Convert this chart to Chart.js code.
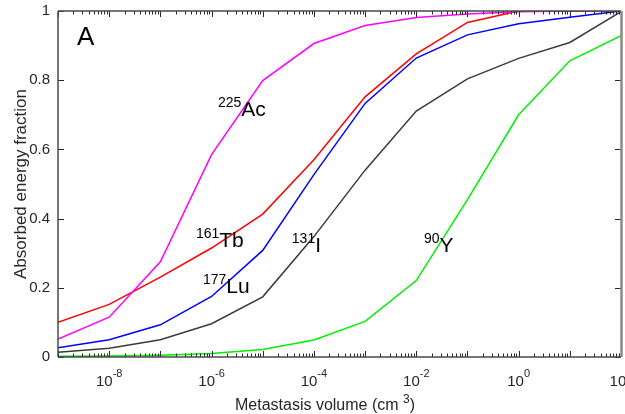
<!DOCTYPE html>
<html>
<head>
<meta charset="utf-8">
<script src="https://cdn.jsdelivr.net/npm/chart.js@4/dist/chart.umd.min.js"></script>
<style>
html,body{margin:0;padding:0;background:#fff;}
#wrap{position:relative;width:625px;height:414px;}
</style>
</head>
<body>
<div id="wrap"><canvas id="c" width="625" height="414"></canvas></div>
<script>
// Metastasis volume (cm^3)
const volumes = [1e-9, 1e-8, 1e-7, 1e-6, 1e-5, 1e-4, 1e-3, 1e-2, 1e-1, 1, 10, 100];
const ac225 = [0.052, 0.115, 0.275, 0.585, 0.799, 0.906, 0.958, 0.981, 0.991, 0.998, 1.0, 1.0];
const tb161 = [0.100, 0.152, 0.231, 0.315, 0.413, 0.570, 0.752, 0.876, 0.967, 1.0, 1.0, 1.0];
const lu177 = [0.027, 0.050, 0.093, 0.175, 0.308, 0.527, 0.733, 0.864, 0.931, 0.963, 0.982, 1.0];
const i131  = [0.014, 0.025, 0.050, 0.096, 0.174, 0.348, 0.540, 0.711, 0.804, 0.863, 0.909, 0.998];
const y90   = [0.002, 0.003, 0.005, 0.010, 0.022, 0.049, 0.103, 0.221, 0.455, 0.700, 0.856, 0.929];
const seriesNames = ['225Ac', '161Tb', '177Lu', '131I', '90Y'];
const xTickValues = [1e-8, 1e-6, 1e-4, 1e-2, 1, 100];
const xTickExponents = ['-8', '-6', '-4', '-2', '0', '2'];
const yTickValues = [0, 0.2, 0.4, 0.6, 0.8, 1];
// label annotations: [mass number, symbol, x (data), y (data)]
const nuclideLabels = [
  ['225', 'Ac', 1.33e-6, 0.721],
  ['161', 'Tb', 4.95e-7, 0.342],
  ['177', 'Lu', 6.8e-7, 0.207],
  ['131', 'I', 3.7e-5, 0.327],
  ['90', 'Y', 1.41e-2, 0.327]
];

const FONT = '"Liberation Sans", Arial, Helvetica, sans-serif';
const AX = '#262626';

function pts(arr){ return volumes.map((v,i)=>({x:v, y:arr[i]})); }

const overlay = {
  id: 'overlay',
  afterDatasetsDraw(chart){
    const ctx = chart.ctx;
    const a = chart.chartArea;
    const xs = chart.scales.x, ys = chart.scales.y;
    ctx.save();
    ctx.fillStyle = '#000';
    ctx.textBaseline = 'alphabetic';
    ctx.textAlign = 'left';
    nuclideLabels.forEach(([m, s, xv, yv])=>{
      const px = xs.getPixelForValue(xv);
      const py = ys.getPixelForValue(yv);
      ctx.font = '14px ' + FONT;
      const w = ctx.measureText(m).width;
      ctx.fillText(m, px, py - 1);
      ctx.font = '21px ' + FONT;
      ctx.fillText(s, px + w, py + 8);
    });
    ctx.font = '26px ' + FONT;
    ctx.fillText('A', a.left + 19, a.top + 34);
    ctx.restore();
  },
  afterDraw(chart){
    const ctx = chart.ctx;
    const a = chart.chartArea;
    const xs = chart.scales.x, ys = chart.scales.y;
    ctx.save();
    ctx.strokeStyle = AX;
    ctx.lineWidth = 1;
    for (let e = -9; e <= 2; e++){
      for (let k = 1; k <= 9; k++){
        const v = k * Math.pow(10, e);
        if (v < xs.min * 0.999 || v > xs.max * 1.001) continue;
        const px = Math.round(xs.getPixelForValue(v)) + 0.5;
        const len = (k === 1) ? 6 : 3.5;
        ctx.beginPath();
        ctx.moveTo(px, a.bottom); ctx.lineTo(px, a.bottom - len);
        ctx.moveTo(px, a.top); ctx.lineTo(px, a.top + len);
        ctx.stroke();
      }
    }
    yTickValues.forEach(v=>{
      const py = Math.round(ys.getPixelForValue(v)) + 0.5;
      ctx.beginPath();
      ctx.moveTo(a.left, py); ctx.lineTo(a.left + 6, py);
      ctx.moveTo(a.right, py); ctx.lineTo(a.right - 6, py);
      ctx.stroke();
    });
    ctx.lineWidth = 1.5;
    ctx.strokeStyle = '#4a4a4a';
    ctx.beginPath();
    ctx.moveTo(a.left, a.top); ctx.lineTo(a.right, a.top);
    ctx.moveTo(a.left, a.top); ctx.lineTo(a.left, a.bottom);
    ctx.moveTo(a.left, a.bottom); ctx.lineTo(a.right, a.bottom);
    ctx.stroke();
    ctx.strokeStyle = '#8a8a8a';
    ctx.lineWidth = 2.5;
    ctx.beginPath();
    ctx.moveTo(a.right + 0.5, a.top); ctx.lineTo(a.right + 0.5, a.bottom);
    ctx.stroke();
    ctx.fillStyle = AX;
    ctx.textBaseline = 'alphabetic';
    ctx.textAlign = 'left';
    xTickValues.forEach((v, i)=>{
      const px = xs.getPixelForValue(v);
      ctx.font = '15px ' + FONT;
      const wb = ctx.measureText('10').width;
      ctx.font = '11px ' + FONT;
      const we = ctx.measureText(xTickExponents[i]).width;
      const x0 = px - (wb + we) / 2;
      ctx.font = '15px ' + FONT;
      ctx.fillText('10', x0, a.bottom + 29);
      ctx.font = '11px ' + FONT;
      ctx.fillText(xTickExponents[i], x0 + wb, a.bottom + 20);
    });
    const t1 = 'Metastasis volume (cm ', t2 = '3', t3 = ')';
    ctx.font = '16px ' + FONT;
    const w1 = ctx.measureText(t1).width, w3 = ctx.measureText(t3).width;
    ctx.font = '12px ' + FONT;
    const w2 = ctx.measureText(t2).width;
    const cx = 325;
    let x = cx - (w1 + w2 + w3) / 2;
    const by = a.bottom + 53;
    ctx.font = '16px ' + FONT;
    ctx.fillText(t1, x, by);
    ctx.font = '12px ' + FONT;
    ctx.fillText(t2, x + w1, by - 7);
    ctx.font = '16px ' + FONT;
    ctx.fillText(t3, x + w1 + w2, by);
    ctx.restore();
  }
};

const colors = ['#ff00ff', '#ff0000', '#0000ff', '#3a3a3a', '#00ee00'];
const dataArrays = [ac225, tb161, lu177, i131, y90];

new Chart(document.getElementById('c'), {
  type: 'line',
  data: {
    datasets: dataArrays.map((d, i)=>({
      label: seriesNames[i],
      data: pts(d),
      borderColor: colors[i],
      backgroundColor: colors[i],
      borderWidth: 1.5,
      pointRadius: 0,
      tension: 0,
      fill: false
    }))
  },
  options: {
    responsive: false,
    animation: false,
    devicePixelRatio: 1,
    layout: { padding: { left: 0, right: 4, top: 11, bottom: 0 } },
    plugins: { legend: { display: false }, tooltip: { enabled: false } },
    scales: {
      x: {
        type: 'logarithmic',
        min: 1e-9, max: 100,
        grid: { display: false, drawTicks: false },
        border: { display: false },
        ticks: { display: false },
        afterFit(s){ s.height = 57; s.paddingLeft = 0; s.paddingRight = 0; }
      },
      y: {
        type: 'linear',
        min: 0, max: 1,
        grid: { display: false, drawTicks: false },
        border: { display: false },
        ticks: {
          stepSize: 0.2,
          padding: 8,
          color: AX,
          font: { family: FONT, size: 15 },
          callback: (v)=> yTickValues.some(t=>Math.abs(t-v)<1e-9) ? String(Math.round(v*10)/10) : ''
        },
        title: {
          display: true,
          text: 'Absorbed energy fraction',
          color: AX,
          font: { family: FONT, size: 17 },
          padding: { top: 11, bottom: 0 }
        },
        afterFit(s){ s.width = 58; s.paddingTop = 0; s.paddingBottom = 0; }
      }
    }
  },
  plugins: [overlay]
});
</script>
</body>
</html>
